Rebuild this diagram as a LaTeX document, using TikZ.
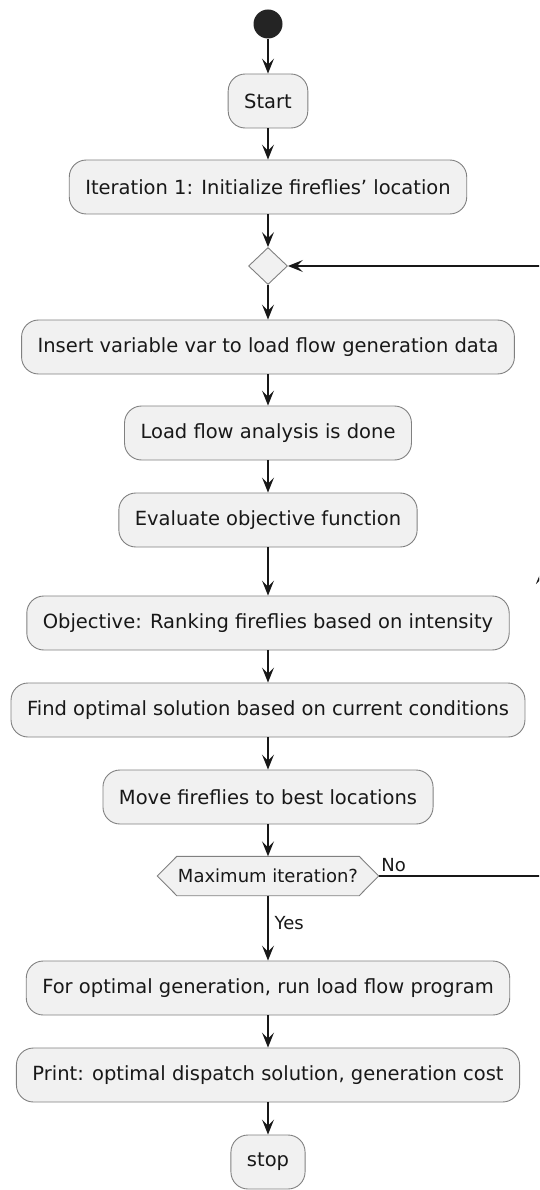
\documentclass[tikz,border=0pt]{standalone}
\usepackage{fontspec}
\setmainfont{DejaVu Sans}
\usetikzlibrary{arrows.meta}
\usetikzlibrary{shapes.geometric}
\usetikzlibrary{backgrounds}
\definecolor{boxfill}{RGB}{241,241,241}
\definecolor{boxline}{RGB}{128,128,128}
\definecolor{flow}{RGB}{24,24,24}

\begin{document}
\begin{tikzpicture}[x=1pt, y=-1pt,
    act/.style={draw=boxline, fill=boxfill, line width=0.9pt, rounded corners=17pt,
        minimum height=54pt, inner xsep=16pt, text=flow, font=\fontsize{19.5}{23}\selectfont},
    flowline/.style={draw=flow, line width=1.4pt, -{Stealth[length=15pt, width=12pt, inset=6pt]}},
    lbl/.style={text=flow, inner sep=0pt, font=\fontsize{18}{21}\selectfont}]
    \useasboundingbox (0,0) rectangle (539,1190);
    \clip (0,0) rectangle (539,1190);

    \node[circle, fill=flow!95!white, minimum size=29pt, inner sep=0pt] (init) at (268,24) {};
    \node[act] (start) at (268,101) {Start};
    \node[act] (iter) at (268,187) {Iteration 1: Initialize fireflies’ location};
    \node[diamond, draw=boxline, fill=boxfill, line width=0.9pt, minimum width=39pt,
        minimum height=37pt, inner sep=0pt] (merge) at (268,266) {};
    \node[act] (insert) at (268,347) {Insert variable var to load flow generation data};
    \node[act] (lfa) at (268,433) {Load flow analysis is done};
    \node[act] (evalobj) at (268,520) {Evaluate objective function};
    \node[act] (rank) at (268,623) {Objective: Ranking fireflies based on intensity};
    \node[act] (optsol) at (268,710) {Find optimal solution based on current conditions};
    \node[act] (move) at (268,797) {Move fireflies to best locations};
    \node[lbl, minimum width=182pt, minimum height=39pt] (maxit) at (268,876) {Maximum iteration?};
    \node[act] (runlf) at (268,988) {For optimal generation, run load flow program};
    \node[act] (print) at (268,1075) {Print: optimal dispatch solution, generation cost};
    \node[act] (stop) at (268,1162) {stop};

    \coordinate (hexl) at ([xshift=-19.5pt]maxit.west);
    \coordinate (hexr) at ([xshift=19.5pt]maxit.east);
    \begin{scope}[on background layer]
        \draw[boxline, fill=boxfill, line width=0.9pt] (maxit.north west) -- (maxit.north east)
            -- (hexr) -- (maxit.south east) -- (maxit.south west) -- (hexl) -- cycle;
    \end{scope}

    \coordinate (loopdown) at (542,876);
    \coordinate (loopmid) at (542,569);
    \coordinate (loopup) at (542,266);

    \draw[flowline] (init) -- (start);
    \draw[flowline] (start) -- (iter);
    \draw[flowline] (iter) -- (merge);
    \draw[flowline] (merge) -- (insert);
    \draw[flowline] (insert) -- (lfa);
    \draw[flowline] (lfa) -- (evalobj);
    \draw[flowline] (evalobj) -- (rank);
    \draw[flowline] (rank) -- (optsol);
    \draw[flowline] (optsol) -- (move);
    \draw[flowline] (move) -- (maxit);
    \draw[flowline] (maxit) -- node[lbl, anchor=west, xshift=6pt, pos=0.42] (yes) {Yes} (runlf);
    \draw[flowline] (runlf) -- (print);
    \draw[flowline] (print) -- (stop);

    \draw[flowline] (hexr) -- node[lbl, anchor=base west, pos=0, xshift=2pt, yshift=5pt] (no) {No}
        (loopdown) -- (loopmid);
    \draw[flowline] (loopmid) -- (loopup) -- (merge);
\end{tikzpicture}
\end{document}
